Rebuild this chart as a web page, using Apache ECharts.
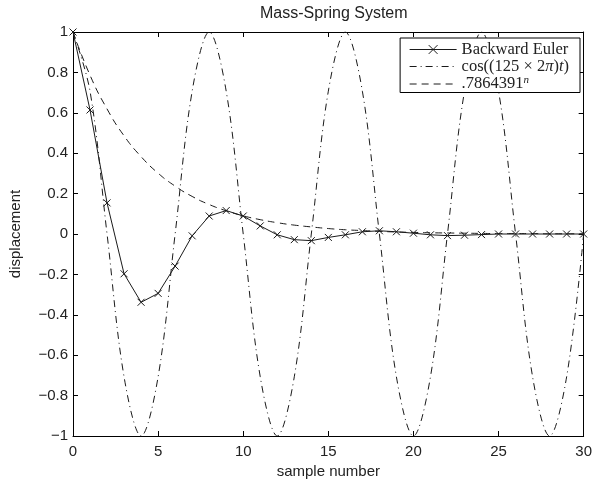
<!DOCTYPE html>
<html lang="en">
<head>
    <meta charset="UTF-8">
    <title>Mass-Spring System</title>
</head>
<body style="margin: 0; background: #fff">
    <div id="main" style="width:595px;height:484px"></div>
    <script src="https://cdn.jsdelivr.net/npm/echarts@6/dist/echarts.min.js"></script>
    <script type="text/javascript">
        // sample numbers 0..30
        var samples = [];
        for (var i = 0; i <= 30; i++) samples.push(i);

        // values
        var eulerVals = [1, 0.614, 0.154, -0.197, -0.338, -0.294, -0.159, -0.009, 0.089, 0.116,
            0.089, 0.040, -0.004, -0.028, -0.033, -0.017, -0.004, 0.011, 0.016, 0.011,
            0.004, -0.004, -0.008, -0.006, -0.003, 0, 0, 0, 0, 0, 0];
        var cosVals = [1, 0.707, 0, -0.707, -1, -0.707, 0, 0.707, 1, 0.707,
            0, -0.707, -1, -0.707, 0, 0.707, 1, 0.707, 0, -0.707,
            -1, -0.707, 0, 0.707, 1, 0.707, 0, -0.707, -1, -0.707, 0];
        var expVals = [1, 0.786, 0.619, 0.486, 0.383, 0.301, 0.237, 0.186, 0.146, 0.115,
            0.090, 0.071, 0.056, 0.044, 0.035, 0.027, 0.021, 0.017, 0.013, 0.010,
            0.008, 0.006, 0.005, 0.004, 0.003, 0.002, 0.002, 0.002, 0.001, 0.001, 0.001];

        var names = ['Backward Euler', 'cos', 'exp'];

        function pairs(vals) {
            return samples.map(function (x, k) { return [x, vals[k]]; });
        }

        var sans = 'Liberation Sans';
        var serif = 'Liberation Serif';
        var txt = '#222';
        var ink = '#1a1a1a';
        var clear = 'rgba(0,0,0,0)';

        var chart = echarts.init(document.getElementById('main'));
        var tickStyle = { show: true, inside: true, length: 5, lineStyle: { color: '#000' } };
        var lineAx = { show: true, onZero: false, lineStyle: { color: '#000', width: 1 } };

        var option = {
            backgroundColor: '#fff',
            animation: false,
            title: {
                text: 'Mass-Spring System',
                left: 255,
                top: 1,
                textStyle: { fontFamily: sans, fontSize: 16, fontWeight: 'normal', color: txt }
            },
            grid: { left: 70, right: 7, top: 32, bottom: 43 },
            legend: {
                data: names,
                orient: 'vertical',
                right: 15,
                top: 38,
                itemWidth: 47,
                itemHeight: 11,
                itemGap: 0,
                padding: [3, 11, 0, 9],
                backgroundColor: '#fff',
                borderColor: '#000',
                borderWidth: 1,
                borderRadius: 0,
                lineStyle: { width: 1 },
                itemStyle: { borderWidth: 1 },
                textStyle: {
                    fontFamily: serif, fontSize: 16.5, color: txt,
                    rich: {
                        r: { fontFamily: serif, fontSize: 16.5, color: txt },
                        i: { fontFamily: serif, fontSize: 16.5, fontStyle: 'italic', color: txt },
                        s: { fontFamily: serif, fontSize: 11, fontStyle: 'italic', color: txt, padding: [0, 0, 7, 0] }
                    }
                },
                formatter: function (name) {
                    if (name === 'cos') return '{r|cos((125 × 2}{i|π}{r|)}{i|t}{r|)}';
                    if (name === 'exp') return '{r|.7864391}{s|n}';
                    return '{r|' + name + '}';
                }
            },
            xAxis: [{
                type: 'value', min: 0, max: 30, interval: 5,
                name: 'sample number', nameLocation: 'middle', nameGap: 28,
                nameTextStyle: { fontFamily: sans, fontSize: 15, color: txt },
                axisLine: lineAx, axisTick: tickStyle, splitLine: { show: false },
                axisLabel: { fontFamily: sans, fontSize: 15, color: txt, margin: 8 }
            }, {
                type: 'value', min: 0, max: 30, interval: 5, position: 'top',
                axisLine: lineAx, axisTick: tickStyle, splitLine: { show: false },
                axisLabel: { show: false }
            }],
            yAxis: [{
                type: 'value', min: -1, max: 1, interval: 0.2,
                name: 'displacement', nameLocation: 'middle', nameGap: 50, nameRotate: 90,
                nameTextStyle: { fontFamily: sans, fontSize: 15, color: txt },
                axisLine: lineAx, axisTick: tickStyle, splitLine: { show: false },
                axisLabel: {
                    fontFamily: sans, fontSize: 15, color: txt, margin: 5,
                    formatter: function (v) { return String(Math.round(v * 10) / 10).replace('-', '\u2212'); }
                }
            }, {
                type: 'value', min: -1, max: 1, interval: 0.2, position: 'right',
                axisLine: lineAx, axisTick: tickStyle, splitLine: { show: false },
                axisLabel: { show: false }
            }],
            series: [{
                name: names[0],
                type: 'line',
                data: pairs(eulerVals),
                symbol: 'path://M0,0L10,10M10,0L0,10',
                symbolSize: 7,
                showSymbol: true,
                itemStyle: { color: clear, borderColor: ink, borderWidth: 1 },
                lineStyle: { color: ink, width: 1 },
                z: 5
            }, {
                name: names[1],
                type: 'line',
                data: pairs(cosVals),
                smooth: 0.35,
                showSymbol: false,
                symbol: 'circle',
                itemStyle: { color: clear, borderColor: clear, borderWidth: 0 },
                lineStyle: { color: ink, width: 1, type: [7, 4, 1, 4] }
            }, {
                name: names[2],
                type: 'line',
                data: pairs(expVals),
                smooth: true,
                showSymbol: false,
                symbol: 'circle',
                itemStyle: { color: clear, borderColor: clear, borderWidth: 0 },
                lineStyle: { color: ink, width: 1, type: [7, 5] }
            }]
        };
        chart.setOption(option);
    </script>
</body>
</html>
